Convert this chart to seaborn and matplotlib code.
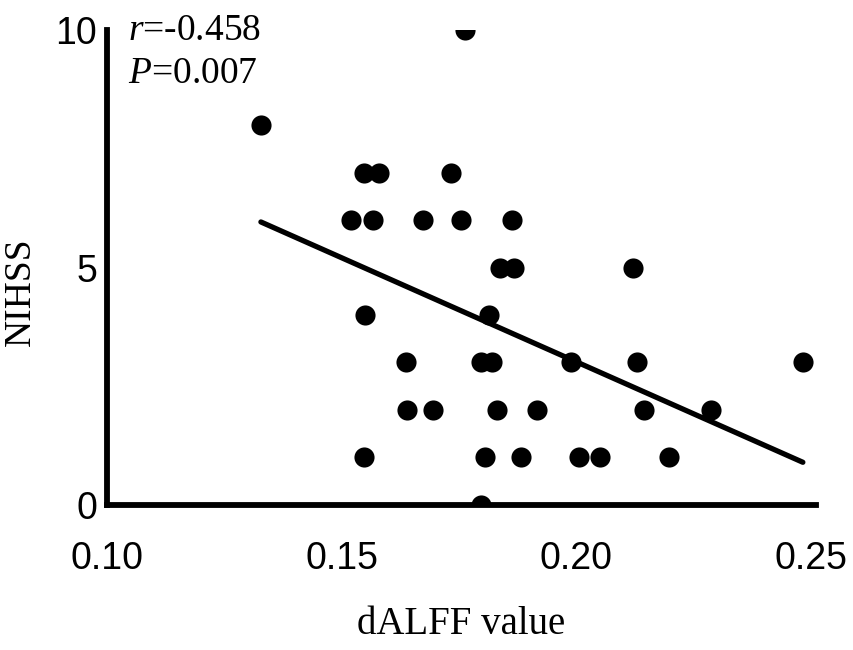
import numpy as np
import pandas as pd
import matplotlib
matplotlib.use('Agg')
import matplotlib.pyplot as plt
import seaborn as sns

# values
dalff = [0.1328, 0.1764,
         0.1547, 0.1579, 0.1734,
         0.1521, 0.1566, 0.1674, 0.1755, 0.1864,
         0.1838, 0.1868, 0.2121,
         0.1549, 0.1815,
         0.1638, 0.1796, 0.1821, 0.1989, 0.2130, 0.2483,
         0.1640, 0.1694, 0.1832, 0.1917, 0.2145, 0.2287,
         0.1547, 0.1806, 0.1883, 0.2006, 0.2051, 0.2198,
         0.1796]
nihss = [8, 10,
         7, 7, 7,
         6, 6, 6, 6, 6,
         5, 5, 5,
         4, 4,
         3, 3, 3, 3, 3, 3,
         2, 2, 2, 2, 2, 2,
         1, 1, 1, 1, 1, 1,
         0]
x_ticks = [0.10, 0.15, 0.20, 0.25]
x_tick_labels = ['0.10', '0.15', '0.20', '0.25']
y_ticks = [0, 5, 10]

df = pd.DataFrame({'dALFF': dalff, 'NIHSS': nihss})

sns.set_style('white')
plt.rcParams['font.family'] = ['Liberation Sans', 'DejaVu Sans']
plt.rcParams['mathtext.fontset'] = 'custom'
plt.rcParams['mathtext.it'] = 'Liberation Serif:italic'
plt.rcParams['mathtext.rm'] = 'Liberation Serif'
plt.rcParams['text.color'] = 'black'
plt.rcParams['axes.labelcolor'] = 'black'
plt.rcParams['xtick.color'] = 'black'
plt.rcParams['ytick.color'] = 'black'

fig = plt.figure(figsize=(8.54, 6.5), dpi=100)
ax = fig.add_axes([0.1253, 0.2231, 0.9555 - 0.1253, 0.9538 - 0.2231])

sns.regplot(
    data=df, x='dALFF', y='NIHSS', ci=None, color='k', ax=ax,
    scatter_kws=dict(s=210, alpha=1, linewidths=0),
    line_kws=dict(linewidth=3.8, solid_capstyle='round')
)

ax.set_xlim(0.10, 0.2511)
ax.set_ylim(0, 10)
ax.set_xticks(x_ticks)
ax.set_xticklabels(x_tick_labels)
ax.set_yticks(y_ticks)
ax.tick_params(axis='x', length=0, pad=26, labelsize=27, labelcolor='black')
ax.tick_params(axis='y', length=0, pad=7, labelsize=27, labelcolor='black')

for side in ['top', 'right']:
    ax.spines[side].set_visible(False)
for side in ['left', 'bottom']:
    ax.spines[side].set_linewidth(4.2)
    ax.spines[side].set_color('k')

ax.set_xlabel('dALFF value', family='Liberation Serif', fontsize=28, color='black')
ax.set_ylabel('NIHSS', family='Liberation Serif', fontsize=27, color='black')
ax.xaxis.set_label_coords(0.5, -0.212)
ax.yaxis.set_label_coords(-0.098, 0.45)

ax.text(0.03, 1.035, r'$\it{r}$=-0.458', transform=ax.transAxes,
        family='Liberation Serif', fontsize=27, va='top', ha='left', color='black')
ax.text(0.03, 0.945, r'$\it{P}$=0.007', transform=ax.transAxes,
        family='Liberation Serif', fontsize=27, va='top', ha='left', color='black')

fig.savefig('out.png', dpi=100)
